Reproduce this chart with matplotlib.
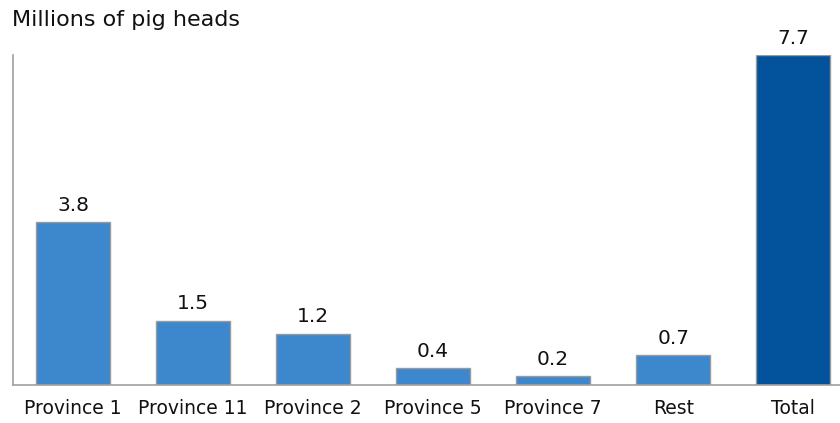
import matplotlib.pyplot as plt
import numpy as np

categories = ['Province 1', 'Province 11', 'Province 2', 'Province 5', 'Province 7', 'Rest', 'Total']
values = [3.8, 1.5, 1.2, 0.4, 0.2, 0.7, 7.7]
colors = ['#3d88cc'] * 6 + ['#02529c']

fig = plt.figure(figsize=(8.4, 4.23), dpi=100)
ax = fig.add_axes([13/840, 1 - 385/423, (840-13)/840, 330/423])

x = np.arange(len(categories))
bars = ax.bar(x, values, width=0.62, color=colors, edgecolor='#9a9a9a', linewidth=1)
for xi, v in zip(x, values):
    ax.text(xi, v + 0.17, f'{v:.1f}', ha='center', va='bottom', fontsize=14.5, color='#111111')

ax.set_xlim(-0.5, 6.39)
ax.set_ylim(0, 7.7)
ax.set_xticks(x)
ax.set_xticklabels(categories, fontsize=13.5, color='#111111')
ax.tick_params(axis='x', length=0, pad=10)
ax.set_yticks([])
for s in ['top', 'right']:
    ax.spines[s].set_visible(False)
for s in ['left', 'bottom']:
    ax.spines[s].set_color('#a0a0a0')
    ax.spines[s].set_linewidth(1.2)

fig.text(12/840, 1 - 20/423, 'Millions of pig heads', fontsize=16, va='center', ha='left', color='#111111')

fig.savefig('out.png', dpi=100)
